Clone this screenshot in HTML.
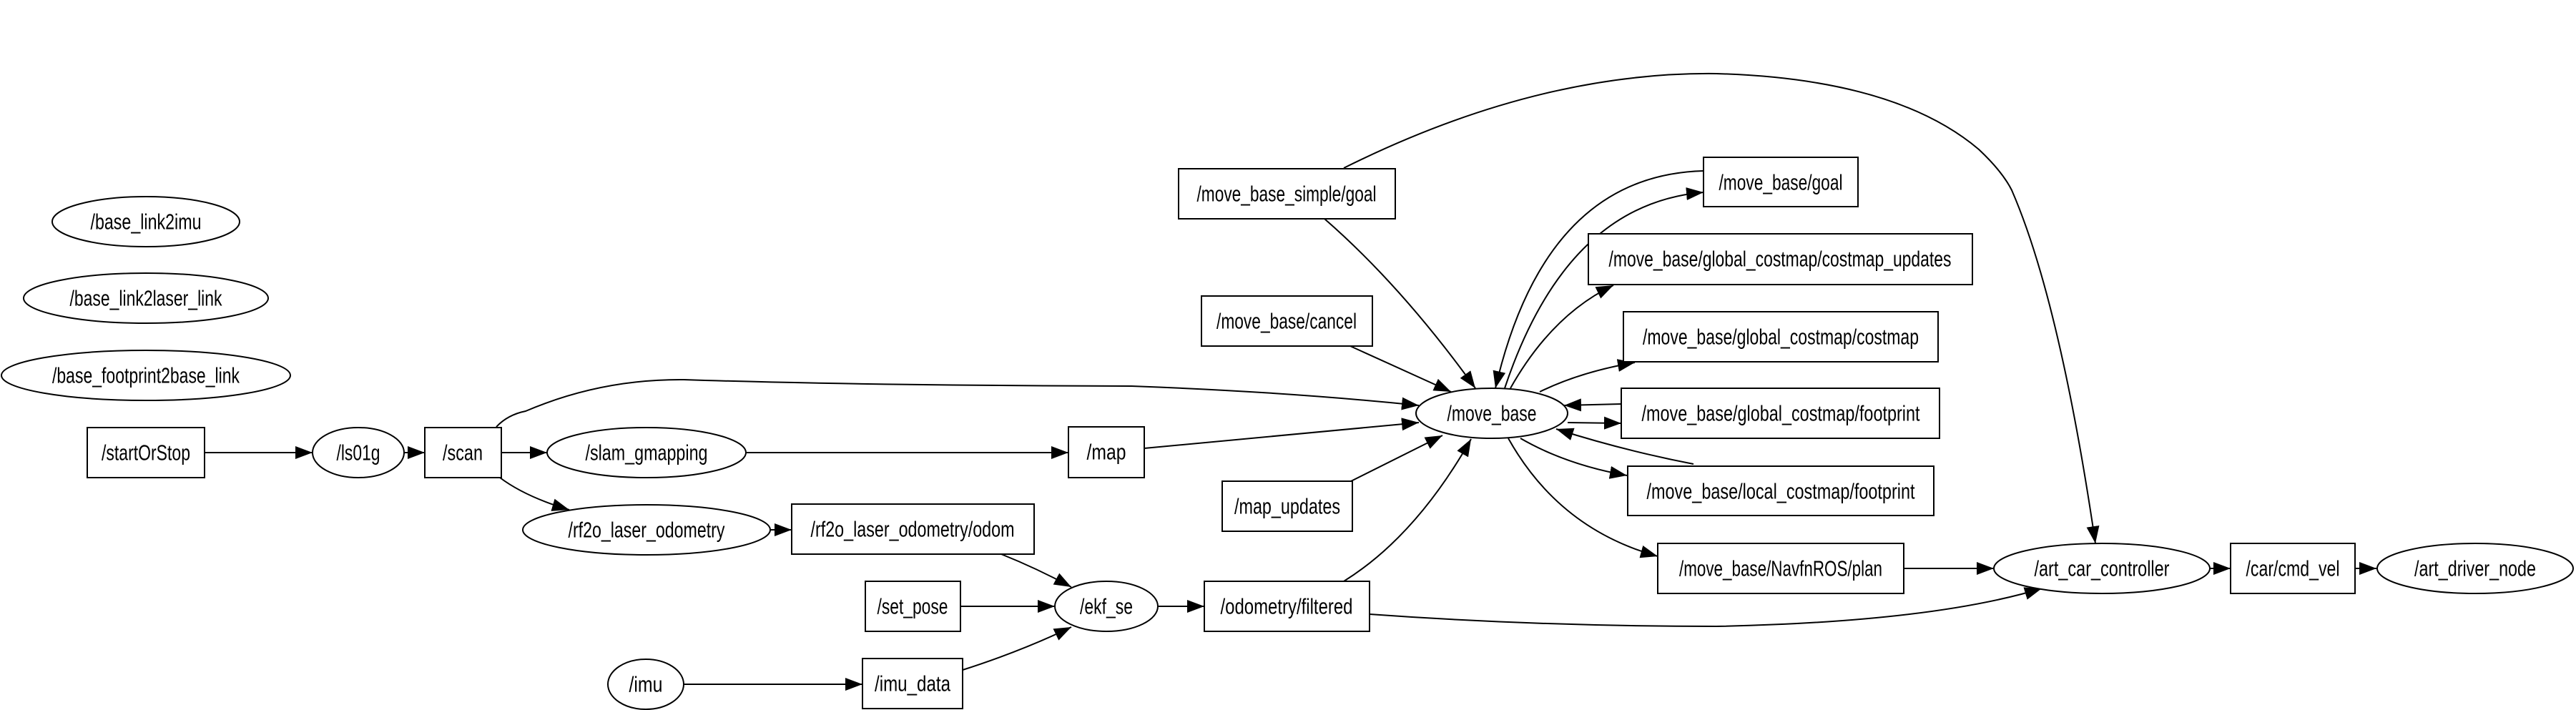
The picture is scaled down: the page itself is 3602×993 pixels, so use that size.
<!DOCTYPE html>
<html><head><meta charset="utf-8"><style>
html,body{margin:0;padding:0;background:#fff;}
svg{display:block;}
text{font-family:"Liberation Sans",sans-serif;font-size:31px;fill:#000;text-anchor:middle;dominant-baseline:central;}
.n{fill:#fff;stroke:#000;stroke-width:2;}
.e{fill:none;stroke:#000;stroke-width:2;marker-end:url(#a);}
</style></head><body>
<svg width="3602" height="993" viewBox="0 0 3602 993" xmlns="http://www.w3.org/2000/svg">
<defs><marker id="a" markerUnits="userSpaceOnUse" markerWidth="26" markerHeight="20" refX="24" refY="9" orient="auto"><path d="M0,0 L24,9 L0,18 Z" fill="#000"/></marker></defs>

<path class="e" d="M286,633 L437,633"/>
<path class="e" d="M565,633 L594,633"/>
<path class="e" d="M701,633 L765,633"/>
<path class="e" d="M699,668 Q735,695 796,713"/>
<path class="e" d="M694,597 Q710,580 735,575 Q840,530 956,531 Q1200,539 1582,540 Q1800,548 1984,567"/>
<path class="e" d="M1044,633 L1494,633"/>
<path class="e" d="M1600,627 L1984,591"/>
<path class="e" d="M1889,673 L2017,609"/>
<path class="e" d="M1888,484 L2029,548"/>
<path class="e" d="M1852,306 Q1960,400 2063,543"/>
<path class="e" d="M1879,235 Q2150,100 2400,103 Q2650,110 2767,209 Q2800,240 2813,266 Q2880,420 2930,760"/>
<path class="e" d="M1879,813 Q1980,750 2057,614"/>
<path class="e" d="M1915,859 Q2150,876 2400,876 Q2700,870 2855,823"/>
<path class="e" d="M2109,613 Q2180,740 2318,778"/>
<path class="e" d="M2662,795 L2788,795"/>
<path class="e" d="M3089,795 L3119,795"/>
<path class="e" d="M3293,795 L3323,795"/>
<path class="e" d="M956,957 L1206,957"/>
<path class="e" d="M1077,741 L1107,741"/>
<path class="e" d="M1400,775 Q1450,795 1498,821"/>
<path class="e" d="M1343,848 L1475,848"/>
<path class="e" d="M1346,937 Q1430,910 1498,877"/>
<path class="e" d="M1619,848 L1684,848"/>
<path class="e" d="M2382,239 Q2160,245 2091,543"/>
<path class="e" d="M2104,543 Q2190,285 2382,269"/>
<path class="e" d="M2112,543 Q2170,440 2256,399"/>
<path class="e" d="M2153,548 Q2210,520 2286,507"/>
<path class="e" d="M2267,565 L2187,567"/>
<path class="e" d="M2192,591 L2267,592"/>
<path class="e" d="M2368,649 Q2270,630 2176,600"/>
<path class="e" d="M2126,613 Q2190,650 2275,665"/>

<ellipse class="n" cx="204" cy="310" rx="131" ry="35"/><text x="204" y="310" textLength="155" lengthAdjust="spacingAndGlyphs">/base_link2imu</text>
<ellipse class="n" cx="204" cy="417" rx="171" ry="35"/><text x="204" y="417" textLength="213" lengthAdjust="spacingAndGlyphs">/base_link2laser_link</text>
<ellipse class="n" cx="204" cy="525" rx="202" ry="35"/><text x="204" y="525" textLength="262" lengthAdjust="spacingAndGlyphs">/base_footprint2base_link</text>
<rect class="n" x="122" y="598" width="164" height="70"/><text x="204" y="633" textLength="124" lengthAdjust="spacingAndGlyphs">/startOrStop</text>
<ellipse class="n" cx="501" cy="633" rx="64" ry="35"/><text x="501" y="633" textLength="61" lengthAdjust="spacingAndGlyphs">/ls01g</text>
<rect class="n" x="594" y="598" width="107" height="70"/><text x="647" y="633" textLength="56" lengthAdjust="spacingAndGlyphs">/scan</text>
<ellipse class="n" cx="904" cy="633" rx="139" ry="35"/><text x="904" y="633" textLength="171" lengthAdjust="spacingAndGlyphs">/slam_gmapping</text>
<ellipse class="n" cx="904" cy="741" rx="173" ry="35"/><text x="904" y="741" textLength="219" lengthAdjust="spacingAndGlyphs">/rf2o_laser_odometry</text>
<ellipse class="n" cx="903" cy="957" rx="53" ry="35"/><text x="903" y="957" textLength="47" lengthAdjust="spacingAndGlyphs">/imu</text>
<rect class="n" x="1107" y="705" width="339" height="70"/><text x="1276" y="740" textLength="285" lengthAdjust="spacingAndGlyphs">/rf2o_laser_odometry/odom</text>
<rect class="n" x="1210" y="813" width="133" height="70"/><text x="1276" y="848" textLength="99" lengthAdjust="spacingAndGlyphs">/set_pose</text>
<rect class="n" x="1206" y="921" width="140" height="70"/><text x="1276" y="956" textLength="106" lengthAdjust="spacingAndGlyphs">/imu_data</text>
<ellipse class="n" cx="1547" cy="848" rx="72" ry="35"/><text x="1547" y="848" textLength="74" lengthAdjust="spacingAndGlyphs">/ekf_se</text>
<rect class="n" x="1494" y="597" width="106" height="71"/><text x="1547" y="632" textLength="55" lengthAdjust="spacingAndGlyphs">/map</text>
<rect class="n" x="1648" y="236" width="303" height="70"/><text x="1799" y="271" textLength="251" lengthAdjust="spacingAndGlyphs">/move_base_simple/goal</text>
<rect class="n" x="1680" y="414" width="239" height="70"/><text x="1799" y="449" textLength="196" lengthAdjust="spacingAndGlyphs">/move_base/cancel</text>
<rect class="n" x="1709" y="673" width="182" height="70"/><text x="1800" y="708" textLength="148" lengthAdjust="spacingAndGlyphs">/map_updates</text>
<rect class="n" x="1684" y="813" width="231" height="70"/><text x="1799" y="848" textLength="185" lengthAdjust="spacingAndGlyphs">/odometry/filtered</text>
<ellipse class="n" cx="2086" cy="578" rx="106" ry="35"/><text x="2086" y="578" textLength="125" lengthAdjust="spacingAndGlyphs">/move_base</text>
<rect class="n" x="2382" y="220" width="216" height="69"/><text x="2490" y="255" textLength="173" lengthAdjust="spacingAndGlyphs">/move_base/goal</text>
<rect class="n" x="2221" y="327" width="537" height="71"/><text x="2489" y="362" textLength="479" lengthAdjust="spacingAndGlyphs">/move_base/global_costmap/costmap_updates</text>
<rect class="n" x="2270" y="436" width="440" height="70"/><text x="2490" y="471" textLength="386" lengthAdjust="spacingAndGlyphs">/move_base/global_costmap/costmap</text>
<rect class="n" x="2267" y="543" width="445" height="70"/><text x="2490" y="578" textLength="389" lengthAdjust="spacingAndGlyphs">/move_base/global_costmap/footprint</text>
<rect class="n" x="2276" y="652" width="428" height="69"/><text x="2490" y="687" textLength="375" lengthAdjust="spacingAndGlyphs">/move_base/local_costmap/footprint</text>
<rect class="n" x="2318" y="760" width="344" height="70"/><text x="2490" y="795" textLength="284" lengthAdjust="spacingAndGlyphs">/move_base/NavfnROS/plan</text>
<ellipse class="n" cx="2939" cy="795" rx="151" ry="35"/><text x="2939" y="795" textLength="189" lengthAdjust="spacingAndGlyphs">/art_car_controller</text>
<rect class="n" x="3119" y="760" width="174" height="70"/><text x="3206" y="795" textLength="131" lengthAdjust="spacingAndGlyphs">/car/cmd_vel</text>
<ellipse class="n" cx="3461" cy="795" rx="137" ry="35"/><text x="3461" y="795" textLength="170" lengthAdjust="spacingAndGlyphs">/art_driver_node</text>
</svg>
</body></html>
